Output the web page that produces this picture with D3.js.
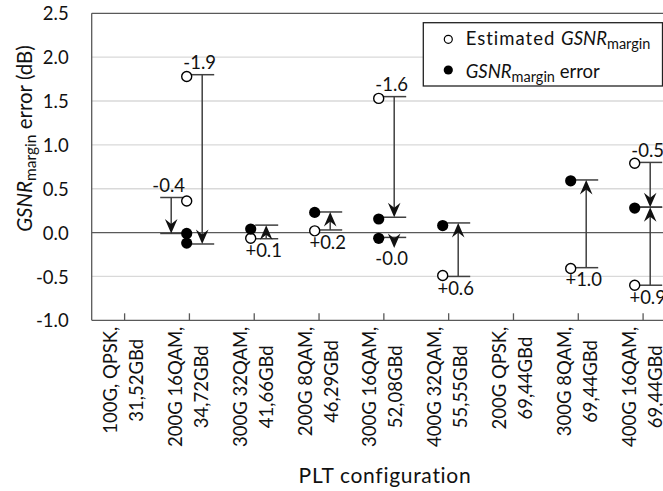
<!DOCTYPE html>
<html><head><meta charset="utf-8">
<script src="https://cdn.jsdelivr.net/npm/d3@7"></script>
<style>
body{margin:0;background:#fff}
svg{display:block}
text{font-family:Lato,"Noto Sans",sans-serif;fill:#111}
</style>
</head><body>
<svg id="chart" width="663" height="491"></svg>
<script>
// ---- data ----
const catLine1 = ["100G, QPSK,","200G 16QAM,","300G 32QAM,","200G 8QAM,","300G 16QAM,","400G 32QAM,","200G QPSK,","300G 8QAM,","400G 16QAM,"];
const catLine2 = ["31,52GBd","34,72GBd","41,66GBd","46,29GBd","52,08GBd","55,55GBd","69,44GBd","69,44GBd","69,44GBd"];
const yTicks = [-1.0,-0.5,0.0,0.5,1.0,1.5,2.0,2.5];

// Estimated GSNR margin (open circles)
const estCat = [2,2,3,4,5,6,8,9,9];
const estVal = [1.78,0.36,-0.065,0.02,1.53,-0.49,-0.41,0.79,-0.60];
// GSNR margin error (filled circles)
const errCat = [2,2,3,4,5,5,6,8,9];
const errVal = [-0.01,-0.12,0.04,0.23,0.155,-0.065,0.08,0.59,0.28];

// correction arrows
const arrowCat   = [2,2,3,4,5,5,6,8,9,9];
const arrowFrom  = [0.40,1.80,-0.07,0.03,1.55,-0.055,-0.50,-0.40,0.80,-0.60];
const arrowTo    = [-0.01,-0.13,0.085,0.235,0.175,-0.175,0.11,0.60,0.29,0.29];
const arrowLabel = ["-0.4","-1.9","+0.1","+0.2","-1.6","-0.0","+0.6","+1.0","-0.5","+0.9"];
const arrowSide  = [-1,1,1,1,1,1,1,1,1,1];
const arrowLabelAt = ["top","top","bottom","bottom","top","bottom","bottom","bottom","top","bottom"];
const arrowTipCap = [true,true,true,true,true,false,true,true,true,true];

// ---- layout ----
const svg = d3.select("#chart");
const L = 91.7, R = 675, T = 13.3, B = 320.3;
const axisCol = "#595959", arrowCol = "#404040";
const x = d3.scaleLinear().domain([0.5,9.5]).range([L,R]);
const xPts = d3.scaleLinear().domain([0.5,9.5]).range([90.7,666.7]);
const y = d3.scaleLinear().domain([-1,2.5]).range([B,T]);

// gridlines
svg.append("g").selectAll("line").data(yTicks.filter(v=>v!==0 && v!==-1 && v!==2.5)).join("line")
  .attr("x1",L).attr("x2",R).attr("y1",d=>y(d)).attr("y2",d=>y(d))
  .attr("stroke","#d9d9d9").attr("stroke-width",1.3);

// y axis
const yAxis = d3.axisLeft(y).tickValues(yTicks).tickFormat(d=>d.toFixed(1)).tickSize(0).tickPadding(23);
const gy = svg.append("g").attr("transform",`translate(${L},0)`).call(yAxis);
gy.select(".domain").remove();
gy.selectAll("text").attr("font-size","18.5px").attr("font-family","Lato").attr("fill","#111").attr("dy","0.36em");

// x axis
const xAxis = d3.axisBottom(x).tickValues(d3.range(1,10)).tickSize(-7).tickFormat("");
const gx = svg.append("g").attr("transform",`translate(0,${B})`).call(xAxis);
gx.select(".domain").remove();
gx.selectAll("line").attr("stroke",axisCol).attr("stroke-width",1.3);

// frame lines
svg.append("line").attr("x1",L).attr("x2",R).attr("y1",T).attr("y2",T).attr("stroke",axisCol).attr("stroke-width",1.3);
svg.append("line").attr("x1",L).attr("x2",R).attr("y1",B).attr("y2",B).attr("stroke",axisCol).attr("stroke-width",1.3);
svg.append("line").attr("x1",L).attr("x2",L).attr("y1",T).attr("y2",B).attr("stroke",axisCol).attr("stroke-width",1.3);
svg.append("line").attr("x1",L).attr("x2",R).attr("y1",y(0)).attr("y2",y(0)).attr("stroke",axisCol).attr("stroke-width",1.3);

// category labels (rotated, two centered lines)
d3.range(9).forEach(i=>{
  const cx = x(i+1);
  const g = svg.append("g");
  const t1 = g.append("text").text(catLine1[i]).attr("font-size","18.5px").attr("text-anchor","middle");
  const t2 = g.append("text").text(catLine2[i]).attr("font-size","18.5px").attr("text-anchor","middle");
  const len = Math.max(t1.node().getComputedTextLength(), t2.node().getComputedTextLength());
  const yc = B + 6.4 + len/2;
  t1.attr("transform",`translate(${cx-6.9},${yc}) rotate(-90)`);
  t2.attr("transform",`translate(${cx+19.1},${yc}) rotate(-90)`);
});

// axis titles
svg.append("text").attr("x",385).attr("y",483).attr("text-anchor","middle").attr("font-size","21px")
  .attr("letter-spacing","0.7px").text("PLT configuration");
const yt = svg.append("text").attr("transform","translate(31.5,138.5) rotate(-90)").attr("text-anchor","middle").attr("font-size","20.5px");
yt.append("tspan").attr("font-style","italic").text("GSNR");
yt.append("tspan").attr("font-size","15.5px").attr("dy","4.8").text("margin");
yt.append("tspan").attr("dy","-4.8").text(" error (dB)");

// arrows
const head = "M0,0 L-6.3,-14.5 L0,-9.5 L6.3,-14.5 Z";
const ag = svg.append("g");
arrowCat.forEach((c,i)=>{
  const ax = xPts(c) + arrowSide[i]*15.5;
  const y0 = y(arrowFrom[i]), y1 = y(arrowTo[i]);
  const dir = y1 > y0 ? 1 : -1;
  ag.append("line").attr("x1",ax-11).attr("x2",ax+12).attr("y1",y0).attr("y2",y0).attr("stroke",arrowCol).attr("stroke-width",1.5);
  if (arrowTipCap[i]) ag.append("line").attr("x1",ax-11).attr("x2",ax+12).attr("y1",y1).attr("y2",y1).attr("stroke",arrowCol).attr("stroke-width",1.5);
  ag.append("line").attr("x1",ax).attr("x2",ax).attr("y1",y0).attr("y2",y1 - dir*8).attr("stroke",arrowCol).attr("stroke-width",1.5);
  ag.append("path").attr("d",head).attr("fill","#111")
    .attr("transform",`translate(${ax},${y1}) rotate(${dir>0?0:180})`);
  const top = Math.min(y0,y1), bot = Math.max(y0,y1);
  const ly = arrowLabelAt[i]==="top" ? top - 5.5 : bot + 18.6 - (arrowTipCap[i]?0:1.5);
  ag.append("text").attr("x",ax-2.5).attr("y",ly).attr("text-anchor","middle").attr("font-size","18.5px").text(arrowLabel[i]);
});

// points
svg.append("g").selectAll("circle").data(estCat.map((c,i)=>[c,estVal[i]])).join("circle")
  .attr("cx",d=>xPts(d[0])).attr("cy",d=>y(d[1])).attr("r",5)
  .attr("fill","#fff").attr("stroke","#000").attr("stroke-width",1.4);
svg.append("g").selectAll("circle").data(errCat.map((c,i)=>[c,errVal[i]])).join("circle")
  .attr("cx",d=>xPts(d[0])).attr("cy",d=>y(d[1])).attr("r",5.6).attr("fill","#000");

// legend
const lg = svg.append("g");
lg.append("rect").attr("x",423.3).attr("y",22.7).attr("width",239.2).attr("height",63.3)
  .attr("fill","#fff").attr("stroke","#222").attr("stroke-width",1.3);
lg.append("circle").attr("cx",448.3).attr("cy",39.3).attr("r",4).attr("fill","#fff").attr("stroke","#000").attr("stroke-width",1.2);
lg.append("circle").attr("cx",448.3).attr("cy",70).attr("r",4.6).attr("fill","#000");
const l1 = lg.append("text").attr("x",465.7).attr("y",45).attr("font-size","18.5px");
l1.append("tspan").attr("letter-spacing","1px").text("Estimated ");
l1.append("tspan").attr("font-style","italic").text("GSNR");
l1.append("tspan").attr("font-size","14.5px").attr("dy","4.3").text("margin");
const l2 = lg.append("text").attr("x",465.7).attr("y",77.5).attr("font-size","18.5px");
l2.append("tspan").attr("font-style","italic").text("GSNR");
l2.append("tspan").attr("font-size","14.5px").attr("dy","4.3").text("margin");
l2.append("tspan").attr("dy","-4.3").text(" error");
</script>
</body></html>
